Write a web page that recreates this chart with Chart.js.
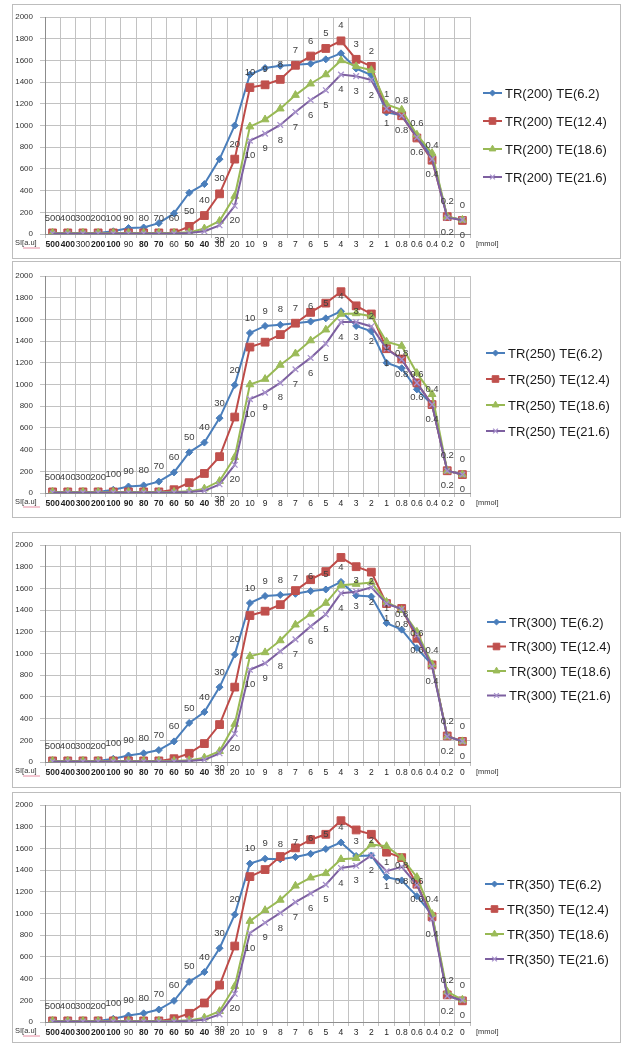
<!DOCTYPE html>
<html>
<head>
<meta charset="utf-8">
<script src="https://cdn.jsdelivr.net/npm/chart.js@4.4.0/dist/chart.umd.min.js"></script>
<style>
  body { margin: 0; background: #fff; width: 623px; height: 1043px; position: relative; overflow: hidden; }
  .panel { position: absolute; left: 13px; width: 607px; outline: 1px solid #bdbdbd; background: #fff; }
  canvas { display: block; }
</style>
</head>
<body>
<div class="panel" style="top:5px;height:253px"><canvas id="c1" width="607" height="253"></canvas></div>
<div class="panel" style="top:262px;height:255px"><canvas id="c2" width="607" height="255"></canvas></div>
<div class="panel" style="top:533px;height:254px"><canvas id="c3" width="607" height="254"></canvas></div>
<div class="panel" style="top:793px;height:249px"><canvas id="c4" width="607" height="249"></canvas></div>

<script>
// Concentration steps (x categories), same for all four panels
const concentrations = ['500', '400', '300', '200', '100', '90', '80', '70', '60', '50', '40', '30', '20',
  '10', '9', '8', '7', '6', '5', '4', '3', '2', '1', '0.8', '0.6', '0.4', '0.2', '0'];
const teValues = ['6.2', '12.4', '18.6', '21.6'];
const trValues = ['200', '250', '300', '350'];

// TR(200)
const tr200_te62 = [10, 10, 10, 10, 25, 55, 60, 100, 190, 380, 460, 690, 1000, 1470, 1530, 1550, 1560, 1570, 1610, 1665, 1525, 1465, 1120, 1095, 900, 715, 160, 130];
const tr200_te124 = [10, 10, 10, 10, 10, 10, 10, 10, 10, 70, 170, 370, 690, 1350, 1375, 1425, 1555, 1640, 1710, 1780, 1610, 1545, 1150, 1090, 885, 680, 160, 125];
const tr200_te186 = [10, 10, 10, 10, 10, 10, 10, 10, 10, 15, 50, 120, 350, 990, 1055, 1155, 1280, 1385, 1470, 1600, 1545, 1510, 1195, 1145, 915, 745, 160, 130];
const tr200_te216 = [5, 5, 5, 5, 5, 5, 5, 5, 5, 10, 25, 80, 260, 860, 925, 1005, 1125, 1235, 1325, 1470, 1455, 1420, 1155, 1090, 890, 690, 150, 130];

// TR(250)
const tr250_te62 = [10, 10, 10, 10, 30, 60, 70, 105, 190, 375, 465, 690, 995, 1475, 1540, 1550, 1565, 1580, 1610, 1675, 1540, 1490, 1200, 1150, 955, 815, 205, 170];
const tr250_te124 = [10, 10, 10, 10, 10, 10, 10, 10, 30, 95, 180, 335, 700, 1345, 1390, 1460, 1565, 1665, 1750, 1855, 1725, 1650, 1330, 1235, 1015, 815, 205, 170];
const tr250_te186 = [10, 10, 10, 10, 10, 10, 10, 10, 10, 15, 40, 110, 330, 1000, 1050, 1180, 1285, 1405, 1505, 1650, 1655, 1630, 1395, 1355, 1105, 910, 205, 170];
const tr250_te216 = [5, 5, 5, 5, 5, 5, 5, 5, 5, 10, 20, 80, 260, 865, 925, 1015, 1140, 1245, 1375, 1575, 1575, 1535, 1330, 1230, 1015, 815, 205, 170];

// TR(300)
const tr300_te62 = [10, 10, 10, 10, 30, 60, 80, 110, 190, 360, 460, 690, 990, 1465, 1530, 1540, 1550, 1575, 1590, 1660, 1535, 1525, 1280, 1220, 1050, 895, 240, 190];
const tr300_te124 = [10, 10, 10, 10, 10, 10, 10, 10, 30, 80, 170, 345, 690, 1350, 1390, 1450, 1580, 1680, 1755, 1885, 1800, 1750, 1460, 1415, 1140, 895, 240, 190];
const tr300_te186 = [10, 10, 10, 10, 10, 10, 10, 10, 10, 15, 40, 100, 350, 975, 1010, 1120, 1265, 1365, 1465, 1630, 1640, 1655, 1475, 1400, 1200, 900, 235, 190];
const tr300_te216 = [5, 5, 5, 5, 5, 5, 5, 5, 5, 10, 20, 80, 260, 850, 910, 1020, 1130, 1250, 1360, 1555, 1570, 1610, 1460, 1410, 1170, 880, 235, 190];

// TR(350)
const tr350_te62 = [10, 10, 10, 10, 30, 60, 80, 115, 195, 370, 460, 680, 990, 1460, 1505, 1500, 1520, 1550, 1595, 1655, 1530, 1535, 1335, 1305, 1160, 990, 245, 195];
const tr350_te124 = [10, 10, 10, 10, 10, 10, 10, 10, 30, 80, 175, 340, 700, 1340, 1405, 1525, 1605, 1680, 1730, 1855, 1770, 1730, 1565, 1515, 1270, 970, 250, 195];
const tr350_te186 = [10, 10, 10, 10, 10, 10, 10, 10, 10, 15, 40, 100, 330, 930, 1030, 1125, 1255, 1330, 1370, 1500, 1510, 1635, 1620, 1515, 1335, 995, 280, 205];
const tr350_te216 = [5, 5, 5, 5, 5, 5, 5, 5, 5, 10, 20, 70, 260, 820, 915, 1005, 1105, 1185, 1265, 1420, 1440, 1535, 1390, 1430, 1265, 950, 240, 200];

const FONT = '"Liberation Sans", Arial, sans-serif';

const seriesStyles = [
  { color: '#4A7EBB', marker: '#4A7EBB', pointStyle: 'rectRot', radius: 3.5 },
  { color: '#BE4B48', marker: '#C0504D', pointStyle: 'rect', radius: 5.5 },
  { color: '#98B954', marker: '#9BBB59', pointStyle: 'triangle', radius: 4.5 },
  { color: '#7D60A0', marker: '#A892CC', pointStyle: 'crossRot', radius: 4 }
];

// Panel setup: which series carries the labels above / below the curves
const panels = [
  { id: 'c1', tr: '200', series: [tr200_te62, tr200_te124, tr200_te186, tr200_te216], padTop: 12, topSeries: 1,
    boldTicks: ['500', '400', '200', '100', '80', '70', '50', '40'], legendX: 470, legendY: 88, legendGap: 28 },
  { id: 'c2', tr: '250', series: [tr250_te62, tr250_te124, tr250_te186, tr250_te216], padTop: 14, topSeries: 0,
    boldTicks: ['500', '400', '300', '200', '100', '90', '80', '70', '60', '50', '40'], legendX: 473, legendY: 91, legendGap: 26 },
  { id: 'c3', tr: '300', series: [tr300_te62, tr300_te124, tr300_te186, tr300_te216], padTop: 12, topSeries: 0,
    boldTicks: ['500', '400', '300', '200', '100', '90', '80', '70', '60', '50', '40'], legendX: 474, legendY: 89, legendGap: 24.5 },
  { id: 'c4', tr: '350', series: [tr350_te62, tr350_te124, tr350_te186, tr350_te216], padTop: 12, topSeries: 0,
    boldTicks: ['500', '400', '300', '200', '100', '80', '70', '60', '50', '40'], legendX: 472, legendY: 91, legendGap: 25 }
];

// concentration labels next to points
const concLabels = {
  id: 'concLabels',
  afterDatasetsDraw(chart, args, opts) {
    const ctx = chart.ctx;
    ctx.save();
    ctx.font = '9.5px ' + FONT;
    ctx.fillStyle = '#404040';
    ctx.textAlign = 'center';
    ctx.textBaseline = 'middle';
    chart.getDatasetMeta(opts.topSeries).data.forEach((pt, i) => {
      ctx.fillText(concentrations[i], pt.x, pt.y - 15);
    });
    chart.getDatasetMeta(opts.bottomSeries).data.forEach((pt, i) => {
      if (i >= opts.bottomFrom) ctx.fillText(concentrations[i], pt.x, pt.y + 15);
    });
    ctx.restore();
  }
};

// legend on the right + the small axis captions
const sideLegend = {
  id: 'sideLegend',
  afterDraw(chart, args, opts) {
    const ctx = chart.ctx;
    const area = chart.chartArea;
    ctx.save();
    chart.data.datasets.forEach((ds, i) => {
      const x = opts.x;
      const y = opts.y + i * opts.gap;
      ctx.strokeStyle = ds.borderColor;
      ctx.lineWidth = 2;
      ctx.beginPath();
      ctx.moveTo(x, y);
      ctx.lineTo(x + 19, y);
      ctx.stroke();
      ctx.fillStyle = ds.pointBackgroundColor;
      ctx.strokeStyle = ds.pointBorderColor;
      ctx.lineWidth = ds.pointBorderWidth;
      Chart.helpers.drawPoint(ctx, { pointStyle: ds.pointStyle, radius: ds.pointRadius * 0.85, borderWidth: ds.pointBorderWidth }, x + 9.5, y);
      ctx.fillStyle = '#1a1a1a';
      ctx.font = '13px ' + FONT;
      ctx.textAlign = 'left';
      ctx.textBaseline = 'middle';
      ctx.fillText(ds.label, x + 22, y + 1);
    });
    const ty = area.bottom + 10;
    ctx.fillStyle = '#333';
    ctx.font = '7.5px ' + FONT;
    ctx.textBaseline = 'middle';
    ctx.textAlign = 'left';
    ctx.fillText('SI[a.u]', 2, ty - 1);
    ctx.strokeStyle = '#e0708a';
    ctx.lineWidth = 0.8;
    ctx.beginPath();
    ctx.moveTo(10, ty + 4);
    ctx.lineTo(27, ty + 4);
    ctx.stroke();
    ctx.fillText('[mmol]', area.right + 6, ty);
    ctx.restore();
  }
};

panels.forEach(p => {
  const datasets = p.series.map((values, i) => ({
    label: 'TR(' + p.tr + ') TE(' + teValues[i] + ')',
    data: values,
    borderColor: seriesStyles[i].color,
    backgroundColor: seriesStyles[i].color,
    borderWidth: 2,
    pointStyle: seriesStyles[i].pointStyle,
    pointRadius: seriesStyles[i].radius,
    pointBackgroundColor: seriesStyles[i].marker,
    pointBorderColor: seriesStyles[i].marker,
    pointBorderWidth: i === 3 ? 1.3 : 1,
    tension: 0,
    order: 4 - i
  }));
  const canvas = document.getElementById(p.id);
  const plotH = 217;
  new Chart(canvas, {
    type: 'line',
    data: { labels: concentrations, datasets: datasets },
    options: {
      responsive: false,
      animation: false,
      layout: { padding: { top: p.padTop, right: 150, left: 0, bottom: 0 } },
      plugins: {
        legend: { display: false },
        tooltip: { enabled: false },
        concLabels: { topSeries: p.topSeries, bottomSeries: 3, bottomFrom: 11 },
        sideLegend: { x: p.legendX, y: p.legendY, gap: p.legendGap }
      },
      scales: {
        x: {
          offset: true,
          afterFit(s) { s.height = canvas.height - p.padTop - plotH; },
          grid: { offset: true, color: '#c2c2c2', lineWidth: 1, drawTicks: true, tickLength: 4 },
          border: { color: '#8c8c8c' },
          ticks: {
            autoSkip: false, maxRotation: 0, minRotation: 0, padding: 2, color: '#1e1e1e',
            font: (c) => ({ family: FONT, size: 8.5, weight: p.boldTicks.includes(concentrations[c.index]) ? 'bold' : 'normal' })
          }
        },
        y: {
          min: 0, max: 2000,
          afterFit(s) { s.width = 32; },
          grid: { color: '#c2c2c2', lineWidth: 1, drawTicks: true, tickLength: 5 },
          border: { color: '#8c8c8c' },
          ticks: {
            stepSize: 200, padding: 7, color: '#333', font: { family: FONT, size: 8 },
            callback: (v) => String(v)
          }
        }
      }
    },
    plugins: [concLabels, sideLegend]
  });
});
</script>
</body>
</html>
